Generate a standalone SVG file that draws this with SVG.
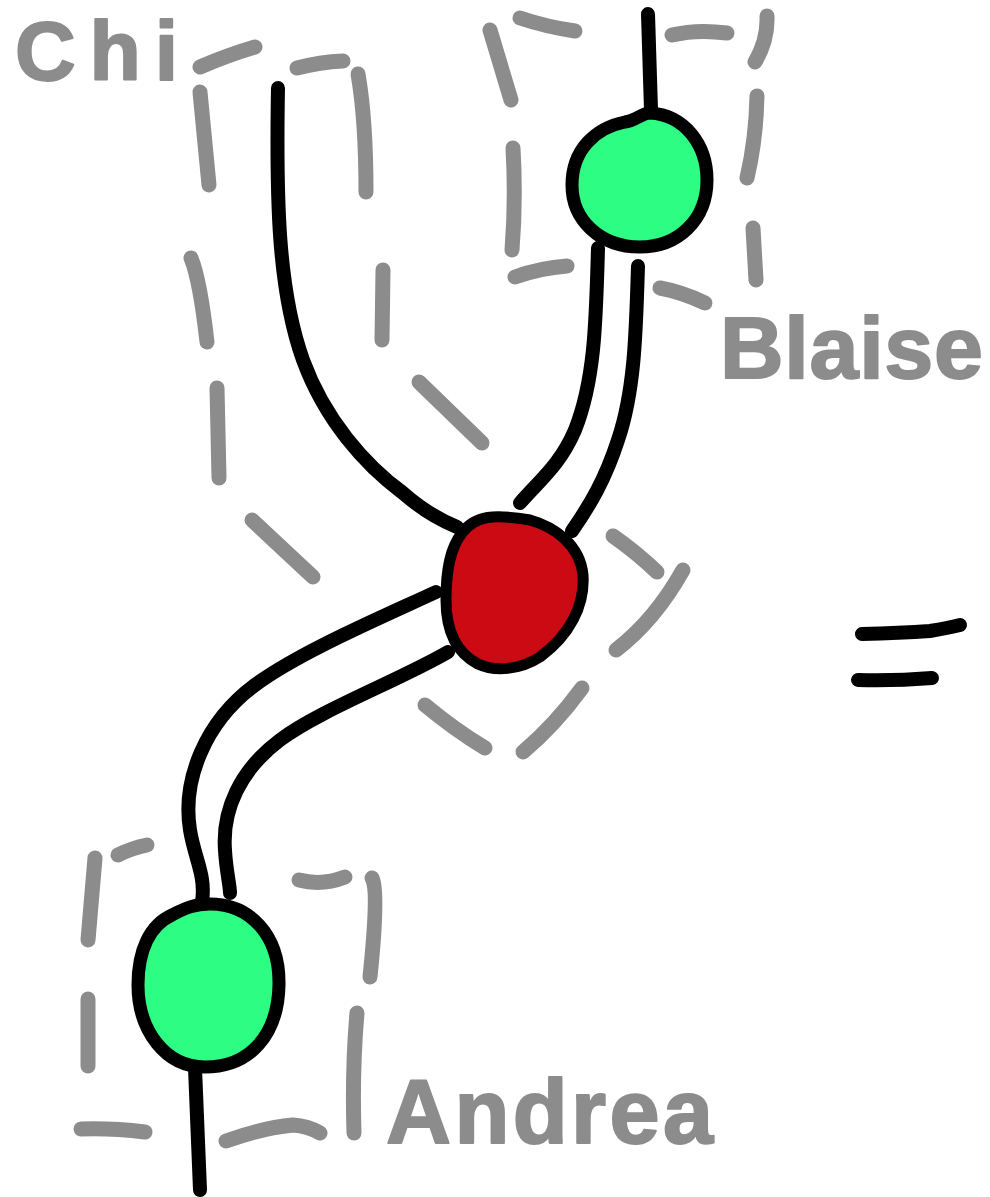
<svg xmlns="http://www.w3.org/2000/svg" width="990" height="1197" viewBox="0 0 990 1197">
<style>
.dash{fill:none;stroke:#8c8c8c;stroke-width:15;stroke-linecap:round;stroke-linejoin:round}
.wire{fill:none;stroke:#000;stroke-width:14;stroke-linecap:round;stroke-linejoin:round}
.label{fill:#8c8c8c;stroke:#8c8c8c;stroke-width:2;stroke-linejoin:round;font-family:"Liberation Sans",Arial,sans-serif;font-weight:bold}
.green{fill:#2efd84;stroke:#000;stroke-width:13;stroke-linejoin:round}
.red{fill:#cc0a14;stroke:#000;stroke-width:11;stroke-linejoin:round}
</style>
<rect width="990" height="1197" fill="#fff"/>
<g id="region-chi">
<path class="dash" d="M200,67 Q228,55 255,47"/>
<path class="dash" d="M297,68 Q320,62 343,61"/>
<path class="dash" d="M200,92 L209,185"/>
<path class="dash" d="M358,74 Q366,120 366,192"/>
<path class="dash" d="M191,258 Q200,280 207,342"/>
<path class="dash" d="M383,270 L382,340"/>
<path class="dash" d="M217,388 L219,478"/>
<path class="dash" d="M419,382 L482,443"/>
<path class="dash" d="M252,520 Q282,548 313,577"/>
<text class="label" x="15" y="80" font-size="84" textLength="163" lengthAdjust="spacing">Chi</text>
</g>
<g id="node-blaise">
<path class="dash" d="M520,18 Q547,27 575,31"/>
<path class="dash" d="M672,35 Q697,29 727,33"/>
<path class="dash" d="M767,16 Q768,40 755,62"/>
<path class="dash" d="M490,30 L511,100"/>
<path class="dash" d="M513,148 Q516,200 512,250"/>
<path class="dash" d="M757,96 Q756,140 747,178"/>
<path class="dash" d="M753,228 L756,280"/>
<path class="dash" d="M515,277 Q540,268 567,266"/>
<path class="dash" d="M660,288 Q682,292 705,303"/>
<path class="green" d="M650,113 C685,115 707,145 707,180 C707,220 678,247 640,247 C600,247 572,220 572,185 C572,150 595,128 625,122 C637,120 642,113 650,113 Z"/>
<text class="label" x="720" y="378" font-size="88" textLength="263" lengthAdjust="spacing">Blaise</text>
</g>
<g id="node-center">
<path class="dash" d="M613,536 Q636,552 657,572"/>
<path class="dash" d="M683,570 Q655,620 616,650"/>
<path class="dash" d="M425,705 Q455,730 485,748"/>
<path class="dash" d="M582,688 Q555,725 523,752"/>
<path class="red" d="M462,533 C475,515 495,514 530,520 C555,527 580,545 583,575 C585,605 570,635 540,657 C520,670 495,672 478,664 C455,652 446,630 446,600 C446,570 450,548 462,533 Z"/>
</g>
<g id="node-andrea">
<path class="dash" d="M118,855 Q132,848 147,845"/>
<path class="dash" d="M95,858 L88,940"/>
<path class="dash" d="M88,999 L88,1066"/>
<path class="dash" d="M81,1129 Q112,1128 145,1132"/>
<path class="dash" d="M226,1141 Q262,1128 293,1125 Q308,1126 320,1133"/>
<path class="dash" d="M299,880 Q322,886 345,877"/>
<path class="dash" d="M372,878 Q379,890 370,977"/>
<path class="dash" d="M357,1013 Q352,1070 354,1133"/>
<path class="green" d="M210,904 C250,904 280,935 279,985 C278,1035 250,1067 205,1067 C165,1067 138,1030 138,985 C138,950 150,925 172,915 C185,908 195,904 210,904 Z"/>
<text class="label" x="386" y="1143" font-size="90" textLength="327" lengthAdjust="spacing">Andrea</text>
</g>
<g id="connectors">
<path class="wire" d="M648,14 L651,110" stroke-width="11"/>
<path class="wire" d="M278,88 C276,200 278,290 303,360 C325,420 365,465 403,493 C420,508 440,520 457,527" stroke-width="13"/>
<path class="wire" d="M598,248 C596,320 595,380 575,430 C560,465 540,480 520,503"/>
<path class="wire" d="M638,266 C636,330 635,390 618,440 C605,480 590,505 572,531"/>
<path class="wire" d="M436,592 C380,618 300,652 255,685 C205,722 182,780 190,830 C195,860 206,875 202,902"/>
<path class="wire" d="M448,652 C400,680 320,710 280,740 C240,770 222,810 225,850 C226,870 230,885 230,893" stroke-width="13"/>
<path class="wire" d="M195,1068 L200,1190"/>
</g>
<g id="equals">
<path class="wire" d="M862,634 Q900,633 930,631 Q948,628 960,625" stroke-width="16"/>
<path class="wire" d="M858,680 Q895,681 932,678" stroke-width="15"/>
</g>
</svg>
